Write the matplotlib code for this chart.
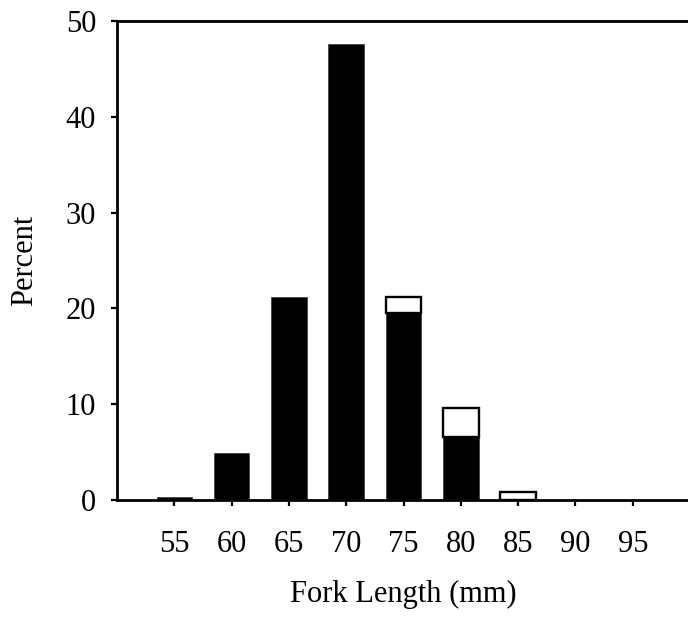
import matplotlib
matplotlib.use('Agg')
import matplotlib.pyplot as plt

# fork length classes (mm) and percent per class
lengths = [55, 60, 65, 70, 75, 80, 85, 90, 95]
pct_black = [0.3, 4.9, 21.2, 47.6, 19.5, 6.6, 0, 0, 0]
pct_white = [0, 0, 0, 0, 1.7, 3.0, 0.8, 0, 0]

plt.rcParams['font.family'] = ['Liberation Serif', 'DejaVu Serif']
plt.rcParams['font.size'] = 22

fig = plt.figure(figsize=(6.88, 6.24), dpi=100)
ax = fig.add_axes([0.170, 0.199, 0.833, 0.767])

# only draw classes that have something in them
xb = [x for x, v in zip(lengths, pct_black) if v > 0]
vb = [v for v in pct_black if v > 0]
ax.bar(xb, vb, width=3.1, color='black', edgecolor='#444444', lw=0.6)

xw = [x for x, v in zip(lengths, pct_white) if v > 0]
vw = [v for v in pct_white if v > 0]
bw = [b for b, v in zip(pct_black, pct_white) if v > 0]
ax.bar(xw, vw, width=3.1, bottom=bw, color='white', edgecolor='black', lw=1.7)

ax.set_xlim(50, 100)
ax.set_ylim(0, 50)
ax.set_xticks(lengths)
ax.set_yticks([0, 10, 20, 30, 40, 50])

ax.spines['right'].set_visible(False)
for s in ['left', 'top', 'bottom']:
    ax.spines[s].set_linewidth(2.0)

ax.tick_params(axis='x', direction='out', length=4, width=1.6, pad=18)
ax.tick_params(axis='y', direction='out', length=4, width=1.6, pad=11)

ax.set_xlabel('Fork Length (mm)', labelpad=15)
ax.set_ylabel('Percent', labelpad=19)

fig.savefig('out.png', dpi=100)
